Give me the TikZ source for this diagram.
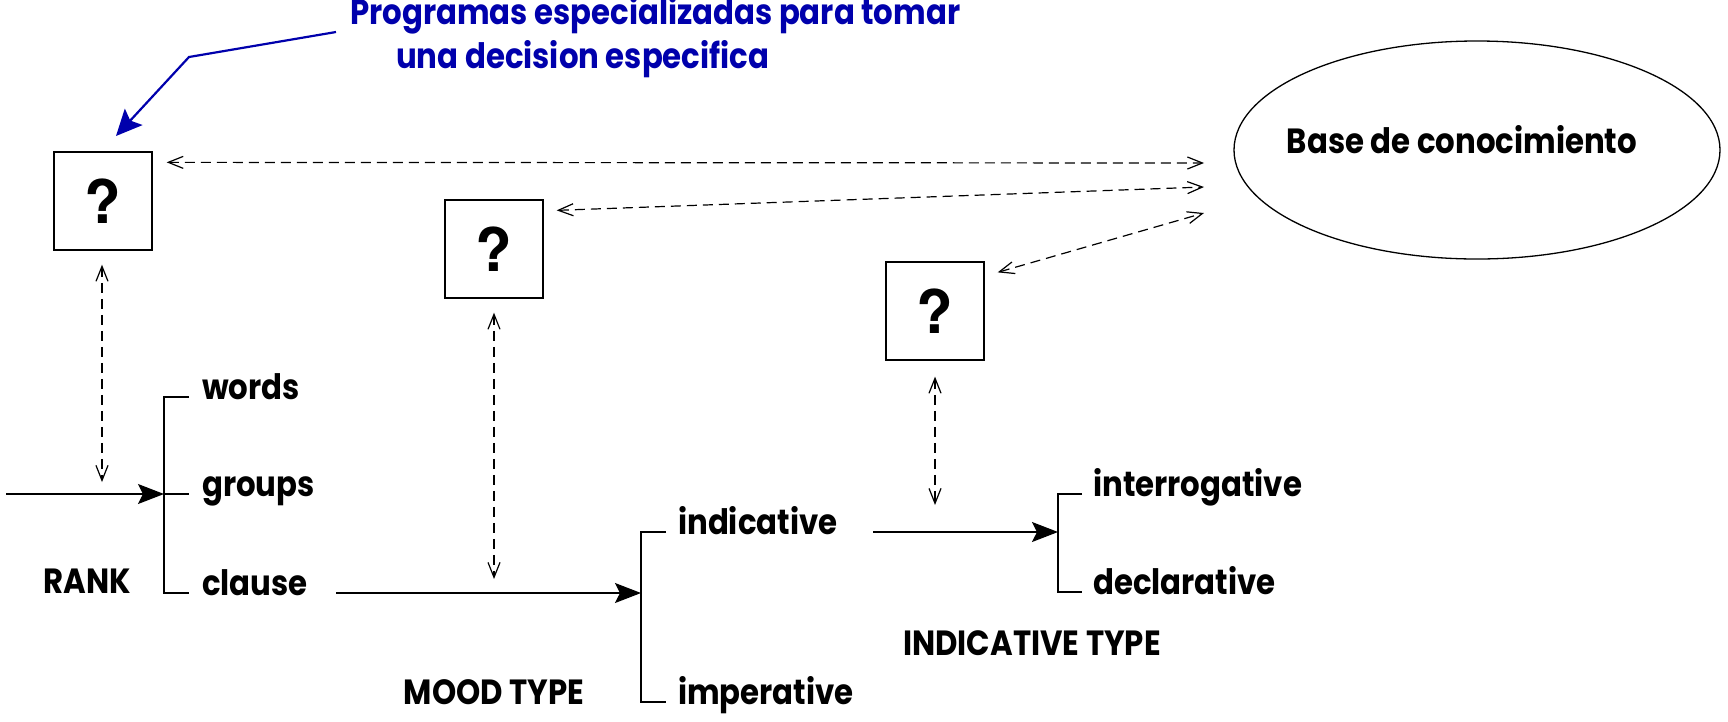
\documentclass[tikz,border=0pt]{standalone}
\usepackage{fontspec}
\setmainfont{Poppins}
\newfontfamily\lblfont[FakeStretch=0.88]{Poppins}
\newfontfamily\qfont{TeX Gyre Heros}
\usetikzlibrary{arrows.meta,shapes.geometric,calc}
\definecolor{progblue}{RGB}{0,0,172}
\begin{document}
\begin{tikzpicture}[x=1pt,y=-1pt,
  lbl/.style={anchor=mid west, inner sep=0pt, font=\lblfont\fontsize{35}{40}\selectfont\bfseries},
  captext/.style={anchor=center, inner sep=0pt, font=\lblfont\fontsize{35}{40}\selectfont\bfseries},
  bluetext/.style={anchor=mid west, inner sep=0pt, text=progblue, font=\lblfont\fontsize{35}{40}\selectfont\bfseries},
  qbox/.style={draw, line width=1.3pt, minimum width=98pt, minimum height=98pt, inner sep=0pt,
    font=\qfont\fontsize{60}{66}\selectfont\bfseries},
  kbell/.style={draw, ellipse, line width=1.3pt, minimum width=486pt, minimum height=218pt, inner sep=0pt},
  thinline/.style={line width=1.3pt},
  solidarrow/.style={line width=1.3pt, -{Stealth[length=26pt,width=20pt,inset=5pt]}},
  dbl/.style={line width=1.2pt, dash pattern=on 10pt off 6pt,
    {Straight Barb[length=15pt,width=12pt,line width=1.2pt]}-{Straight Barb[length=15pt,width=12pt,line width=1.2pt]}},
  bluearrow/.style={draw=progblue, line width=2.2pt, -{Stealth[length=26pt,width=24pt,inset=5pt]}, fill=none}
]
\useasboundingbox (0,0) rectangle (1728,721);

% blue annotation
\node[bluetext] (prog1) at (350,22) {Programas especializadas para tomar};
\node[bluetext] (prog2) at (396,66) {una decision especifica};

% decision boxes
\node[qbox] (q1) at (103,201) {?};
\node[qbox] (q2) at (494,249) {?};
\node[qbox] (q3) at (935,311) {?};

% knowledge base
\node[kbell] (kb) at (1477,150) {};
\node[captext] (kbt) at (1462,140) {Base de conocimiento};

% blue arrow
\coordinate (bstart) at (336,32);
\coordinate (bend) at (116,136);
\draw[bluearrow] (bstart) -- (189,57) -- (bend);

% dashed links to knowledge base
\coordinate (k1) at (1204,163);
\coordinate (k2) at (1204,187);
\coordinate (k3) at (1204,213);
\draw[dbl] ($(q1.north east)+(14,11)$) -- (k1);
\draw[dbl] ($(q2.north east)+(13,11)$) -- (k2);
\draw[dbl] ($(q3.north east)+(13,11)$) -- (k3);

% system labels
\node[lbl] (w) at (202,397) {words};
\node[lbl] (g) at (202,494) {groups};
\node[lbl] (c) at (202,593) {clause};
\node[captext] (rank) at (87,581) {RANK};
\node[lbl] (ind) at (678,532) {indicative};
\node[lbl] (imp) at (678,702) {imperative};
\node[captext] (mood) at (494,692) {MOOD TYPE};
\node[lbl] (intr) at (1093,494) {interrogative};
\node[lbl] (decl) at (1093,592) {declarative};
\node[captext] (indt) at (1032,643) {INDICATIVE TYPE};

% vertical dashed links
\coordinate (v1) at (102,482);
\coordinate (v2) at (494,579);
\coordinate (v3) at (935,505);
\draw[dbl] ($(q1.south)+(-1,14)$) -- (v1);
\draw[dbl] ($(q2.south)+(0,14)$) -- (v2);
\draw[dbl] ($(q3.south)+(0,16)$) -- (v3);

% brackets
\coordinate (br1) at (164,0);
\coordinate (br2) at (641,0);
\coordinate (br3) at (1058,0);
\draw[thinline] ([xshift=-13pt]w.mid west) -- (w.mid west -| br1) -- (c.mid west -| br1) -- ([xshift=-13pt]c.mid west);
\draw[thinline] (g.mid west -| br1) -- ([xshift=-13pt]g.mid west);
\draw[thinline] ([xshift=-12pt]ind.mid west) -- (ind.mid west -| br2) -- (imp.mid west -| br2) -- ([xshift=-12pt]imp.mid west);
\draw[thinline] ([xshift=-11pt]intr.mid west) -- (intr.mid west -| br3) -- (decl.mid west -| br3) -- ([xshift=-11pt]decl.mid west);

% solid arrows
\coordinate (in) at (6,494);
\coordinate (cs) at (336,593);
\coordinate (is) at (873,532);
\draw[solidarrow] (in) -- (g.mid west -| br1);
\draw[solidarrow] (cs) -- (c.mid west -| br2);
\draw[solidarrow] (is) -- (ind.mid west -| br3);
\end{tikzpicture}
\end{document}
